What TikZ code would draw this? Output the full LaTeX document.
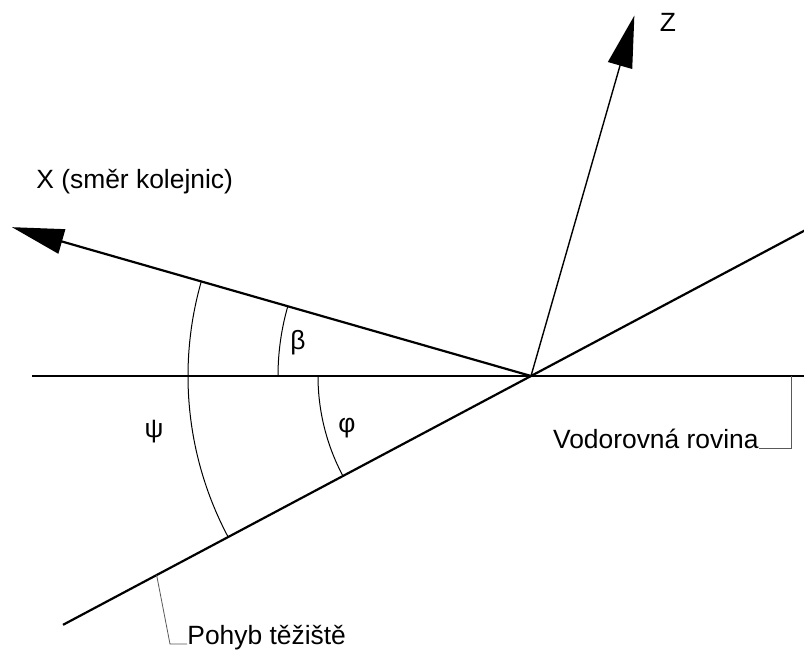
\documentclass[tikz,border=0pt]{standalone}
\usepackage{fontspec}
\setmainfont{Liberation Sans}
\usetikzlibrary{arrows.meta}

\begin{document}
\begin{tikzpicture}[x=0.5pt, y=0.5pt, font=\fontsize{13.2}{16}\selectfont,
  axis/.style={line width=1.1pt},
  thinaxis/.style={line width=0.7pt},
  anglearc/.style={line width=0.5pt},
  leader/.style={line width=0.4pt, black!65},
  bigtip/.style={-{Triangle[length=26pt, width=12.5pt]}}]
\useasboundingbox (0,0) rectangle (804,650);
% point where all lines meet
\coordinate (O) at (531,274);
\coordinate (hl) at (32,274);
\coordinate (hr) at (804,274);
\path (O) ++(164:540) coordinate (xtip);
\path (O) ++(74:375) coordinate (ztip);
\path (O) ++(208:530) coordinate (il);
\path (O) ++(28:310) coordinate (ir);
\draw[axis] (hl) -- (hr);
\draw[axis] (il) -- (ir);
\draw[axis, bigtip] (O) -- (xtip);
\draw[thinaxis, bigtip] (O) -- (ztip);
% angles
\draw[anglearc] (O) ++(164:253) arc[start angle=164, end angle=180, radius=253];
\draw[anglearc] (O) ++(180:213) arc[start angle=180, end angle=208, radius=213];
\draw[anglearc] (O) ++(164:343) arc[start angle=164, end angle=208, radius=343];
\node (beta) at (298,307) {β};
\node (phi) at (347,222) {φ};
\node (psi) at (154,218) {ψ};
\node (zlab) at (668,628) {Z};
\node[anchor=base west, inner sep=0pt] (xlab) at (36,462) {X (směr kolejnic)};
% leaders
\coordinate (vr) at (791,274);
\coordinate (vrc) at (791,202);
\node[anchor=base east, inner sep=0pt] (vlab) at (759,202) {Vodorovná rovina};
\draw[leader] (vr) -- (vrc) -- (vlab.base east);
\path (O) ++(208:424) coordinate (pt);
\coordinate (ptc) at (170,6);
\node[anchor=base west, inner sep=0pt] (plab) at (187,6) {Pohyb těžiště};
\draw[leader] (pt) -- (ptc) -- (plab.base west);
\end{tikzpicture}
\end{document}
